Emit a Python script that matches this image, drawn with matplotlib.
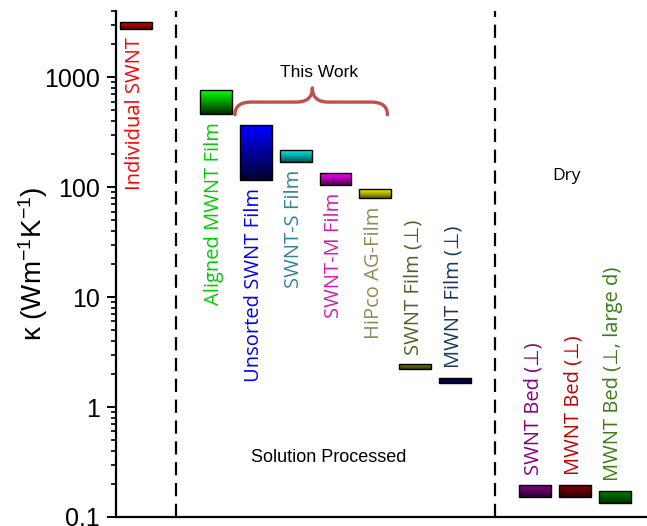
import numpy as np
import matplotlib
matplotlib.use('Agg')
import matplotlib.pyplot as plt
from matplotlib.colors import LinearSegmentedColormap
from matplotlib.patches import Rectangle, PathPatch
from matplotlib.path import Path
import matplotlib.transforms as mtransforms

plt.rcParams['lines.scale_dashes'] = False
plt.rcParams['mathtext.fontset'] = 'custom'
plt.rcParams['mathtext.rm'] = 'Liberation Sans'
plt.rcParams['mathtext.it'] = 'Liberation Sans'
plt.rcParams['mathtext.default'] = 'regular'

names = ['Individual SWNT', 'Aligned MWNT Film', 'Unsorted SWNT Film', 'SWNT-S Film',
         'SWNT-M Film', 'HiPco AG-Film', 'SWNT Film (\u22a5)', 'MWNT Film (\u22a5)',
         'SWNT Bed (\u22a5)', 'MWNT Bed (\u22a5)', 'MWNT Bed (\u22a5, large d)']
positions = [1, 3, 4, 5, 6, 7, 8, 9, 11, 12, 13]
k_low = [2770, 465, 116, 170, 105, 79, 2.23, 1.67, 0.153, 0.153, 0.134]
k_high = [3180, 760, 365, 218, 135, 96, 2.45, 1.85, 0.196, 0.196, 0.173]
label_below = [True, True, True, True, True, True, False, False, False, False, False]
top_colors = ['#E00000', '#00FF00', '#0000FF', '#00F0F0', '#FF00FF', '#F5F500',
              '#808000', '#000080', '#800080', '#800000', '#008000']
bottom_colors = ['#600000', '#003000', '#000030', '#005555', '#500050', '#555500',
                 '#3A3A00', '#000035', '#300030', '#300000', '#003000']
text_colors = ['#FF0000', '#00CC00', '#0000FF', '#31849B', '#D41FA6', '#948A54',
               '#4F6228', '#17375E', '#800080', '#C00000', '#3A7D12']
dividers = [2, 10]

fig = plt.figure(figsize=(6.47, 5.26), dpi=100)
ax = fig.add_axes([116 / 647, 9 / 526, 530 / 647, 506 / 526])
ax.set_yscale('log')
ax.set_ylim(0.1, 4000)
ax.set_xlim(0.5, 13.78)

w = 0.8
for x, lo, hi, tc, bc in zip(positions, k_low, k_high, top_colors, bottom_colors):
    cmap = LinearSegmentedColormap.from_list('g', [bc, tc])
    ye = np.logspace(np.log10(lo), np.log10(hi), 30)
    c = np.linspace(0, 1, 29).reshape(-1, 1)
    ax.pcolormesh([x - w / 2, x + w / 2], ye, c, cmap=cmap, shading='flat', zorder=2)
    ax.add_patch(Rectangle((x - w / 2, lo), w, hi - lo, fill=False, ec='black', lw=1.0, zorder=3))

for x, lo, hi, name, below, col in zip(positions, k_low, k_high, names, label_below, text_colors):
    if below:
        ax.annotate(name, (x, lo), xytext=(-1, -6), textcoords='offset points',
                    rotation=90, ha='center', va='top', color=col, fontsize=14.5,
                    family=['Open Sans', 'DejaVu Sans'])
    else:
        ax.annotate(name, (x, hi), xytext=(-1, 7), textcoords='offset points',
                    rotation=90, ha='center', va='bottom', color=col, fontsize=14.5,
                    family=['Open Sans', 'DejaVu Sans'])

for d in dividers:
    ax.axvline(d, color='black', lw=1.6, dashes=(9.5, 5.5), zorder=1)

# curly brace over "This Work"
trans = mtransforms.blended_transform_factory(ax.transData, ax.transAxes)
x0, x1, xm = 3.48, 7.3, 5.42
ye_, yf, yt = 0.795, 0.82, 0.848
d = 0.4
verts = [(x0, ye_), (x0, yf), (x0 + d, yf), (xm - d, yf), (xm, yf), (xm, yt),
         (xm, yf), (xm + d, yf), (x1 - d, yf), (x1, yf), (x1, ye_)]
codes = [Path.MOVETO, Path.CURVE3, Path.CURVE3, Path.LINETO, Path.CURVE3, Path.CURVE3,
         Path.CURVE3, Path.CURVE3, Path.LINETO, Path.CURVE3, Path.CURVE3]
ax.add_patch(PathPatch(Path(verts, codes), transform=trans, fill=False,
                       ec='#C0504D', lw=2.4, capstyle='round', joinstyle='round'))

ax.text(5.6, 0.878, 'This Work', transform=trans, ha='center', va='center',
        fontsize=12.5, family='Liberation Sans')
ax.text(5.83, 0.118, 'Solution Processed', transform=trans, ha='center', va='center',
        fontsize=13, family='Liberation Sans')
ax.text(11.8, 0.674, 'Dry', transform=trans, ha='center', va='center',
        fontsize=12.5, family=['Open Sans', 'DejaVu Sans'])

ax.text(-0.156, 0.5, '\u03ba (Wm$^{-1}$K$^{-1}$)', transform=ax.transAxes, rotation=90,
        ha='center', va='center', fontsize=20, family='Liberation Sans')

ax.spines['top'].set_visible(False)
ax.spines['right'].set_visible(False)
ax.spines['left'].set_linewidth(1.6)
ax.spines['bottom'].set_linewidth(1.6)
ax.set_xticks([])
ax.set_yticks([0.1, 1, 10, 100, 1000])
ax.set_yticklabels(['0.1', '1', '10', '100', '1000'], family='Liberation Sans', fontsize=18)
ax.tick_params(axis='y', which='major', direction='out', length=6.5, width=1.4, pad=5)
ax.tick_params(axis='y', which='minor', direction='out', length=3.6, width=1.2)

fig.savefig('out.png', dpi=100)
